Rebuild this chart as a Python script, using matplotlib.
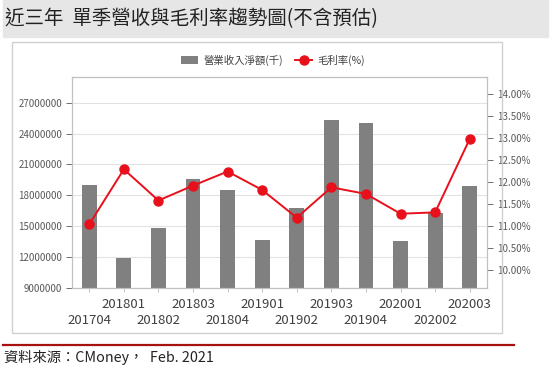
import matplotlib
matplotlib.use("Agg")
import matplotlib.pyplot as plt
from matplotlib.patches import Rectangle
from matplotlib.lines import Line2D
from matplotlib.ticker import FuncFormatter

plt.rcParams['font.family'] = ['Noto Sans CJK TC', 'DejaVu Sans']

# data
quarters = ["201704", "201801", "201802", "201803", "201804", "201901",
            "201902", "201903", "201904", "202001", "202002", "202003"]
revenue = [19050000, 11950000, 14870000, 19600000, 18530000, 13670000,
           16750000, 25340000, 25000000, 13570000, 16270000, 18950000]
margin = [11.04, 12.29, 11.58, 11.92, 12.24, 11.82,
          11.19, 11.88, 11.73, 11.28, 11.31, 12.98]
left_ticks = [9000000, 12000000, 15000000, 18000000, 21000000, 24000000, 27000000]
right_ticks = [10.0, 10.5, 11.0, 11.5, 12.0, 12.5, 13.0, 13.5, 14.0]

W, H = 556, 385
fig = plt.figure(figsize=(W / 100, H / 100), dpi=100)

def px(x0, y0, x1, y1):
    # pixel box -> figure fraction rect
    return [x0 / W, 1 - y1 / H, (x1 - x0) / W, (y1 - y0) / H]

# title band
fig.patches.append(Rectangle((3 / W, 1 - 37 / H), 545 / W, 37 / H,
                             transform=fig.transFigure, color="#e6e6e6", zorder=0))
fig.text(5 / W, 1 - 19 / H, "近三年  單季營收與毛利率趨勢圖(不含預估)",
         fontsize=14, color="#222222", va="center", ha="left")

# chart frame
fig.patches.append(Rectangle((12 / W, 1 - 333 / H), 490 / W, 291 / H,
                             transform=fig.transFigure, fill=False,
                             edgecolor="#d0d0d0", linewidth=1, zorder=0))

# bottom rule and source
fig.lines.append(Line2D([3 / W, 514 / W], [1 - 345 / H, 1 - 345 / H],
                        transform=fig.transFigure, color="#a81010", linewidth=1.6))
fig.text(4 / W, 1 - 357 / H, "資料來源：CMoney，  Feb. 2021",
         fontsize=10.3, color="#222222", va="center", ha="left")

ax = fig.add_axes(px(72, 77, 487, 288))
x = list(range(len(quarters)))
ax.bar(x, revenue, width=0.43, color="#808080", zorder=2, label="營業收入淨額(千)")
ax.set_xlim(-0.5, len(quarters) - 0.5)
ax.set_ylim(9000000, 29500000)
ax.set_yticks(left_ticks)
ax.yaxis.set_major_formatter(FuncFormatter(lambda v, p: f"{int(v)}"))
ax.grid(axis="y", color="#e2e2e2", linewidth=0.8, zorder=0)
ax.set_axisbelow(True)
for s in ax.spines.values():
    s.set_color("#c0c0c0")
    s.set_linewidth(0.8)
ax.tick_params(axis="y", labelsize=7, colors="#595959", length=4, width=0.6, pad=3)

# staggered category labels: odd quarters on the upper row, even on the lower row
upper = [i for i in x if i % 2 == 1]
lower = [i for i in x if i % 2 == 0]
ax.set_xticks(upper)
ax.set_xticklabels([quarters[i] for i in upper])
ax.set_xticks(lower, minor=True)
ax.set_xticklabels([quarters[i] for i in lower], minor=True)
ax.tick_params(axis="x", which="major", labelsize=9.5, labelcolor="#404040",
               color="#bdbdbd", length=3, width=0.6, pad=4)
ax.tick_params(axis="x", which="minor", labelsize=9.5, labelcolor="#404040",
               color="#bdbdbd", length=3, width=0.6, pad=16)

ax2 = ax.twinx()
ax2.plot(x, margin, color="#e8101a", linewidth=1.4, marker="o", markersize=6.5,
         zorder=3, label="毛利率(%)")
ax2.set_ylim(9.59, 14.39)
ax2.set_yticks(right_ticks)
ax2.yaxis.set_major_formatter(FuncFormatter(lambda v, p: f"{v:.2f}%"))
ax2.tick_params(axis="y", labelsize=7, colors="#595959", length=4, width=0.6, pad=3)
for s in ax2.spines.values():
    s.set_color("#c0c0c0")
    s.set_linewidth(0.8)

h1, l1 = ax.get_legend_handles_labels()
h2, l2 = ax2.get_legend_handles_labels()
fig.legend(h1 + h2, l1 + l2, loc="center", bbox_to_anchor=(273 / W, 1 - 60 / H),
           ncol=2, frameon=False, fontsize=7.5, handlelength=1.6, columnspacing=1.2,
           handletextpad=0.5, labelcolor="#404040")

fig.savefig("out.png", dpi=100)
